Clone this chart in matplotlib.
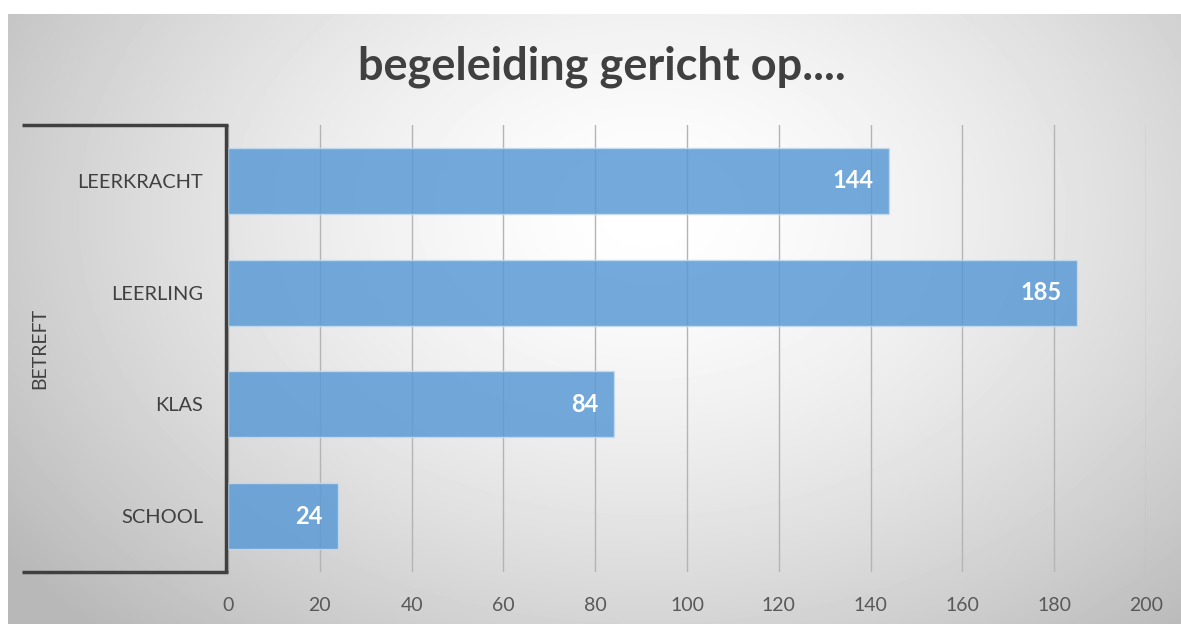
import matplotlib.pyplot as plt
import numpy as np

# data
categories = ['LEERKRACHT', 'LEERLING', 'KLAS', 'SCHOOL']
counts = [144, 185, 84, 24]
x_ticks = [0, 20, 40, 60, 80, 100, 120, 140, 160, 180, 200]
title = 'begeleiding gericht op....'
group_label = 'BETREFT'

plt.rcParams['font.family'] = ['Lato', 'DejaVu Sans']

W, H = 1181, 624
fig = plt.figure(figsize=(W / 100, H / 100), dpi=100)

# radial gradient background (white centre, grey edges)
bg = fig.add_axes([8 / W, 0, 1 - 8 / W, 1 - 14 / H])
yy, xx = np.mgrid[0:610, 0:1173]
cx, cy = 640, 200
r = np.sqrt(((xx - cx) / 640.0) ** 2 + ((yy - cy) / 460.0) ** 2)
r = np.clip(r, 0, 1.25)
shade = 1 - 0.2 * r ** 1.5
bg.imshow(shade, cmap='gray', vmin=0, vmax=1, aspect='auto', interpolation='bilinear')
bg.set_axis_off()

# main plot area
ax = fig.add_axes([228 / W, 1 - 572 / H, (1146 - 228) / W, (572 - 125) / H])
ax.patch.set_alpha(0)
ypos = np.arange(len(categories))
bars = ax.barh(ypos, counts, height=0.59, color='#5b9bd5', alpha=0.85,
               edgecolor='#c5dcf0', linewidth=1, zorder=3)
ax.set_ylim(len(categories) - 0.5, -0.5)
ax.set_xlim(0, 200)
ax.set_xticks(x_ticks)
ax.set_yticks(ypos)
ax.set_yticklabels(categories)
ax.grid(axis='x', color='#b4b4b4', linewidth=1, zorder=0)
for s in ax.spines.values():
    s.set_visible(False)
ax.tick_params(axis='x', length=0, pad=18, labelsize=14, labelcolor='#595959')
ax.tick_params(axis='y', length=0, pad=18, labelsize=14.4, labelcolor='#404040')

# value labels inside bar ends
for b, v in zip(bars, counts):
    ax.annotate(str(v), (b.get_width(), b.get_y() + b.get_height() / 2),
                xytext=(-11, 0), textcoords='offset points', ha='right', va='center',
                color='white', fontsize=17, fontweight='bold', zorder=4)

# bracket of the group axis
ax.plot([-0.224, 0], [1, 1], transform=ax.transAxes, color='#404040', lw=2.5,
        clip_on=False, solid_capstyle='butt', zorder=5)
ax.plot([-0.224, 0], [0, 0], transform=ax.transAxes, color='#404040', lw=2.5,
        clip_on=False, solid_capstyle='butt', zorder=5)
ax.plot([-0.002, -0.002], [0, 1], transform=ax.transAxes, color='#404040', lw=2.5,
        clip_on=False, solid_capstyle='butt', zorder=5)

fig.text(40 / W, 1 - 348 / H, group_label, rotation=90, ha='center', va='center',
         fontsize=14, color='#404040')
fig.text(602 / W, 1 - 67 / H, title, ha='center', va='center', fontsize=32.5,
         fontweight='bold', color='#404040')

fig.savefig('out.png', dpi=100)
